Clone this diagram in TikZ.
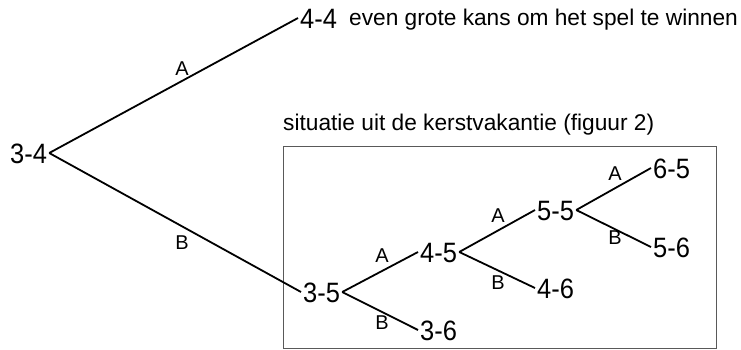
\documentclass[tikz,border=0pt]{standalone}
\usepackage{fontspec}
\setmainfont{Liberation Sans}
\newfontfamily\scorefont[FakeStretch=0.91]{Liberation Sans}
\begin{document}
\begin{tikzpicture}[x=1pt,y=-1pt,
  score/.style={anchor=west,inner sep=2pt,font=\scorefont\fontsize{28}{32}\selectfont,text height=20pt,text depth=0pt},
  lab/.style={inner sep=0pt,font=\fontsize{20}{24}\selectfont,text height=14.3pt,text depth=0pt},
  note/.style={inner sep=0pt,font=\fontsize{22.7}{26}\selectfont},
  branch/.style={line width=1.8pt},
  frame/.style={draw=black!65,line width=1pt}]
\useasboundingbox (0,0) rectangle (741,349);
% frame and caption
\draw[frame] (283,146) rectangle (716,348);
\node[note,anchor=base west] (cap) at (283,130) {situatie uit de kerstvakantie (figuur 2)};
% score nodes
\node[score] (n34) at (8,153) {3-4};
\node[score] (n44) at (298,18) {4-4};
\node[note,anchor=base west] (txt) at (349,25.5) {even grote kans om het spel te winnen};
\node[score] (n35) at (301,292) {3-5};
\node[score] (n45) at (418,252) {4-5};
\node[score] (n36) at (418,330) {3-6};
\node[score] (n55) at (535,210) {5-5};
\node[score] (n46) at (535,288) {4-6};
\node[score] (n65) at (651,168) {6-5};
\node[score] (n56) at (651,247) {5-6};
% branches
\draw[branch] (n34.east) -- (n44.west);
\draw[branch] (n34.east) -- (n35.west);
\draw[branch] (n35.east) -- (n45.west);
\draw[branch] (n35.east) -- (n36.west);
\draw[branch] (n45.east) -- (n55.west);
\draw[branch] (n45.east) -- (n46.west);
\draw[branch] (n55.east) -- (n65.west);
\draw[branch] (n55.east) -- (n56.west);
% branch labels
\node[lab] (la1) at (182,68) {A};
\node[lab] (lb1) at (182,242) {B};
\node[lab] (la2) at (382,255) {A};
\node[lab] (lb2) at (382,322) {B};
\node[lab] (la3) at (498,215) {A};
\node[lab] (lb3) at (498,282) {B};
\node[lab] (la4) at (615,173) {A};
\node[lab] (lb4) at (615,237) {B};
\end{tikzpicture}
\end{document}
